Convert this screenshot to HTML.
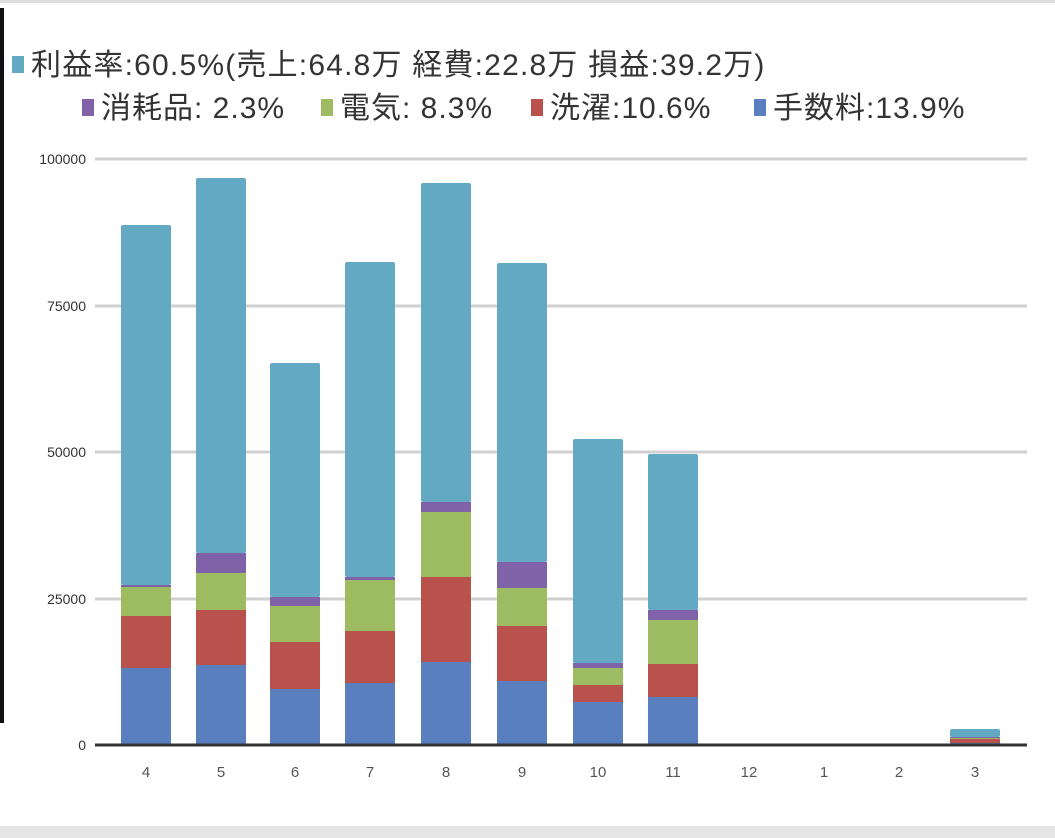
<!DOCTYPE html><html><head><meta charset="utf-8"><style>
body{margin:0;width:1055px;height:838px;background:#fff;overflow:hidden;position:relative;font-family:"Liberation Sans","Noto Sans CJK JP",sans-serif}
.lg{position:absolute;font-size:30px;color:#333;white-space:nowrap;letter-spacing:1px;line-height:36px}
.sq{display:inline-block;width:12px;height:17px;margin-right:7px;vertical-align:2px}
</style></head><body>
<div style="position:absolute;left:0;top:0;width:1055px;height:3px;background:#ddd"></div>
<div style="position:absolute;left:0;top:826px;width:1055px;height:12px;background:#e6e6e6"></div>
<div style="position:absolute;left:0;top:8px;width:4px;height:715px;background:#111"></div>
<div class="lg" style="left:12px;top:48px;letter-spacing:1.2px"><span class="sq" style="background:#63a9c3"></span>利益率:60.5%(売上:64.8万 経費:22.8万 損益:39.2万)</div>
<div class="lg" style="left:82px;top:91px"><span class="sq" style="background:#7f62a8"></span>消耗品: 2.3%</div>
<div class="lg" style="left:321px;top:91px"><span class="sq" style="background:#9dbb61"></span>電気: 8.3%</div>
<div class="lg" style="left:531px;top:91px"><span class="sq" style="background:#b9514d"></span>洗濯:10.6%</div>
<div class="lg" style="left:754px;top:91px"><span class="sq" style="background:#5a7fbf"></span>手数料:13.9%</div>
<svg width="1055" height="838" style="position:absolute;left:0;top:0" font-family="Liberation Sans, sans-serif">
<g stroke="#d0d0d0" stroke-width="3"><line x1="95" x2="1027" y1="159" y2="159"/><line x1="95" x2="1027" y1="306" y2="306"/><line x1="95" x2="1027" y1="452" y2="452"/><line x1="95" x2="1027" y1="599" y2="599"/></g>
<g font-size="14" fill="#333" text-anchor="end"><text x="86" y="164">100000</text><text x="86" y="311">75000</text><text x="86" y="457">50000</text><text x="86" y="604">25000</text><text x="86" y="750">0</text></g>
<g id="bars"></g>
<line x1="95" x2="1027" y1="745" y2="745" stroke="#333" stroke-width="3"/>
<g font-size="15" fill="#555" text-anchor="middle">
<text x="146" y="777">4</text><text x="221" y="777">5</text><text x="295" y="777">6</text><text x="370" y="777">7</text><text x="446" y="777">8</text><text x="522" y="777">9</text><text x="598" y="777">10</text><text x="673" y="777">11</text><text x="749" y="777">12</text><text x="824" y="777">1</text><text x="899" y="777">2</text><text x="975" y="777">3</text></g>
</svg>
<script>
var d=[[146,668,616,587,585,225],[221,665,610,573,553,178],[295,689,642,606,597,363],[370,683,631,580,577,262],[446,662,577,512,502,183],[522,681,626,588,562,263],[598,702,685,668,663,439],[673,697,664,620,610,454],[975,743,739,738,737,729]];
var c=["#5a7fbf","#b9514d","#9dbb61","#7f62a8","#63a9c3"];var s="";
d.forEach(function(b){var prev=745;for(var i=0;i<5;i++){var t=b[i+1];s+='<rect x="'+(b[0]-25)+'" y="'+t+'" width="50" height="'+(prev-t)+'" fill="'+c[i]+'" rx="'+(i==4?2:0)+'"/>';prev=t;}});
document.getElementById("bars").innerHTML=s;
</script>
</body></html>
